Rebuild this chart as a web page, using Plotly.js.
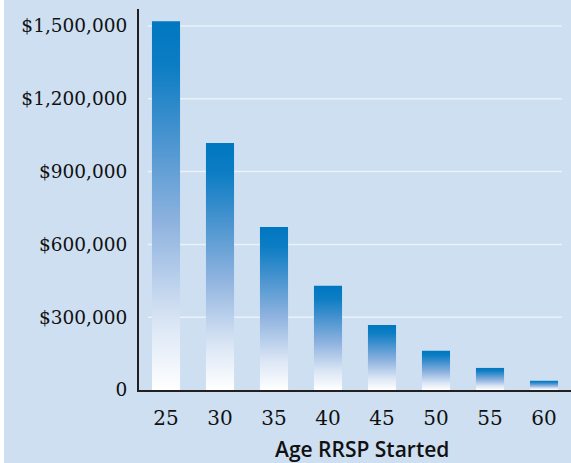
<!DOCTYPE html>
<html>
<head>
<meta charset="utf-8">
<script src="https://cdn.plot.ly/plotly-3.0.1.min.js"></script>
<style>
  html, body { margin: 0; padding: 0; background: #ffffff; }
  #chart { position: absolute; left: 4px; top: 0; width: 567px; height: 463px; }
</style>
</head>
<body>
<div id="chart"></div>
<script>
// Data
const ages = ["25", "30", "35", "40", "45", "50", "55", "60"];
const savings = [1520000, 1018000, 672000, 430000, 268000, 162000, 91000, 38000];
const yTickVals = [0, 300000, 600000, 900000, 1200000, 1500000];
const yTickText = ["0", "$300,000", "$600,000", "$900,000", "$1,200,000", "$1,500,000"];
const xTitle = "Age RRSP Started";

const halfWidth = 0.26;
const gradient = [
  [0, '#ffffff'],
  [0.18, '#dbe6f5'],
  [0.45, '#8fb3df'],
  [0.72, '#3d8fcd'],
  [0.88, '#0c7dc4'],
  [1, '#0077c0']
];

const traces = savings.map((v, i) => ({
  type: 'scatter',
  mode: 'lines',
  x: [i - halfWidth, i - halfWidth, i + halfWidth, i + halfWidth, i - halfWidth],
  y: [0, v, v, 0, 0],
  fill: 'toself',
  fillgradient: { type: 'vertical', colorscale: gradient },
  line: { width: 0, color: 'rgba(0,0,0,0)' },
  hoveron: 'fills',
  name: 'Age ' + ages[i],
  text: '$' + v.toLocaleString('en-US'),
  hoverinfo: 'name+text',
  showlegend: false
}));

const gridShapes = yTickVals.filter(v => v > 0).map(v => ({
  type: 'line', xref: 'x', yref: 'y',
  x0: -0.333, x1: 7.33, y0: v, y1: v,
  line: { color: '#eaf2fa', width: 1.5 },
  layer: 'below'
}));

const layout = {
  width: 567, height: 463,
  margin: { l: 135, r: 0, t: 9, b: 73 },
  paper_bgcolor: '#cddff1',
  plot_bgcolor: '#cddff1',
  showlegend: false,
  shapes: gridShapes,
  annotations: [{
    text: xTitle, xref: 'paper', yref: 'paper',
    x: 0.516, y: -0.155, xanchor: 'center', yanchor: 'middle',
    showarrow: false,
    font: { family: 'Open Sans, sans-serif', size: 21, weight: 600, color: '#111111' }
  }],
  xaxis: {
    type: 'linear',
    range: [-0.5, 7.5],
    tickmode: 'array',
    tickvals: ages.map((a, i) => i),
    ticktext: ages,
    showgrid: false, zeroline: false,
    showline: true, linecolor: '#231f20', linewidth: 2,
    ticks: 'outside', ticklen: 9, tickcolor: 'rgba(0,0,0,0)',
    tickfont: { family: 'DejaVu Serif, serif', size: 20, color: '#111111' },
    fixedrange: true
  },
  yaxis: {
    range: [0, 1570000],
    tickmode: 'array',
    tickvals: yTickVals,
    ticktext: yTickText,
    showgrid: false, zeroline: false,
    showline: true, linecolor: '#231f20', linewidth: 2,
    ticks: 'outside', ticklen: 6, tickcolor: 'rgba(0,0,0,0)',
    tickfont: { family: 'DejaVu Serif, serif', size: 18.5, color: '#111111' },
    fixedrange: true
  }
};

Plotly.newPlot('chart', traces, layout, { displayModeBar: false, responsive: false });
</script>
</body>
</html>
